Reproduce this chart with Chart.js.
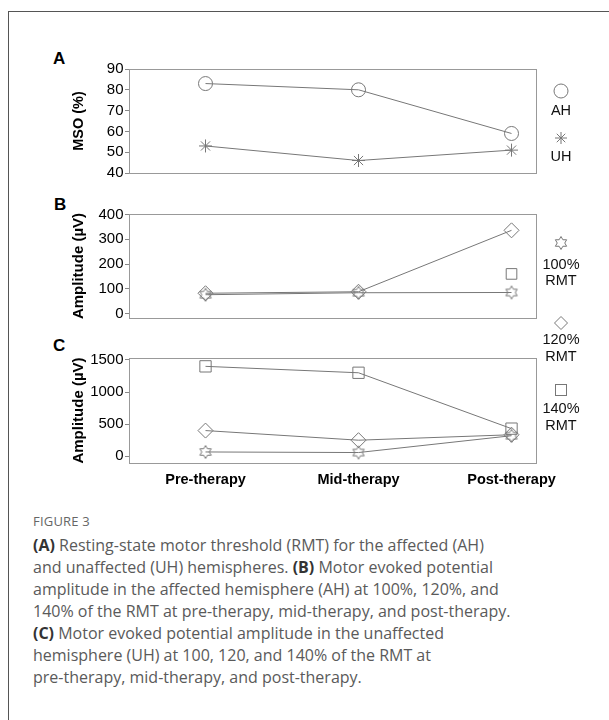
<!DOCTYPE html>
<html>
<head>
<meta charset="utf-8">
<script src="https://cdn.jsdelivr.net/npm/chart.js@4.4.1/dist/chart.umd.min.js"></script>
<style>
  html, body { margin: 0; padding: 0; background: #fff; }
  body { width: 609px; height: 720px; position: relative; overflow: hidden; }
  .frame { position: absolute; left: 8px; top: 11px; width: 620px; height: 720px;
           border-left: 1.5px solid #555; border-top: 1.5px solid #555; }
  .box { position: absolute; left: 0; width: 609px; }
  .letter { position: absolute; font-family: "Liberation Sans", Arial, sans-serif; font-weight: bold;
            font-size: 17px; color: #000; line-height: 1; }
  .fig { position: absolute; left: 33px; top: 512px; font-family: "Open Sans", sans-serif;
         font-size: 13px; color: #666; letter-spacing: 0.2px; }
  .cap { position: absolute; left: 33px; top: 534px; font-family: "Open Sans", sans-serif;
         font-size: 16px; line-height: 22px; color: #5a5a5a; white-space: nowrap; }
  .cap b { color: #333; font-weight: 700; }
</style>
</head>
<body>
<div class="frame"></div>
<div class="letter" style="left:53px;top:50px;">A</div>
<div class="letter" style="left:54px;top:196px;">B</div>
<div class="letter" style="left:53px;top:337px;">C</div>
<div class="box" style="top:40px;height:150px;"><canvas id="cA"></canvas></div>
<div class="box" style="top:190px;height:140px;"><canvas id="cB"></canvas></div>
<div class="box" style="top:225px;height:280px;"><canvas id="cC"></canvas></div>
<div class="fig">FIGURE 3</div>
<div class="cap"><b>(A)</b> Resting-state motor threshold (RMT) for the affected (AH)<br>and unaffected (UH) hemispheres. <b>(B)</b> Motor evoked potential<br>amplitude in the affected hemisphere (AH) at 100%, 120%, and<br>140% of the RMT at pre-therapy, mid-therapy, and post-therapy.<br><b>(C)</b> Motor evoked potential amplitude in the unaffected<br>hemisphere (UH) at 100, 120, and 140% of the RMT at<br>pre-therapy, mid-therapy, and post-therapy.</div>
<script>
// ---------- data ----------
const categories = ['Pre-therapy', 'Mid-therapy', 'Post-therapy'];

const msoAH = [83, 80, 59];
const msoUH = [53, 46, 51];

const ampAH100 = [76, 84, 85];
const ampAH120 = [82, 88, 336];
const ampAH140 = [null, null, 160];

const ampUH100 = [67, 58, 320];
const ampUH120 = [400, 250, 335];
const ampUH140 = [1400, 1300, 430];

const ticksA = [40, 50, 60, 70, 80, 90];
const ticksB = [0, 100, 200, 300, 400];
const ticksC = [0, 500, 1000, 1500];

// ---------- styling ----------
const GRAY = '#777';
const FONT = '"Liberation Sans", Arial, sans-serif';

function hexStar(r) {
  const s = Math.ceil(r * 2 + 3);
  const c = document.createElement('canvas');
  c.width = s; c.height = s;
  const g = c.getContext('2d');
  g.strokeStyle = GRAY; g.lineWidth = 1;
  drawHex(g, s / 2, s / 2, r);
  return c;
}
function drawHex(g, cx, cy, r) {
  const ri = r / Math.sqrt(3);
  g.beginPath();
  for (let k = 0; k < 12; k++) {
    const a = -Math.PI / 2 + k * Math.PI / 6;
    const rr = k % 2 === 0 ? r : ri;
    const x = cx + rr * Math.cos(a), y = cy + rr * Math.sin(a);
    k ? g.lineTo(x, y) : g.moveTo(x, y);
  }
  g.closePath(); g.stroke();
}
const HEX = hexStar(6.5);

function toXY(vals) { return vals.map((v, i) => ({ x: i + 1, y: v })); }

function ds(vals, style, radius) {
  return {
    data: toXY(vals),
    borderColor: GRAY, borderWidth: 1,
    pointStyle: style, pointRadius: radius, pointHoverRadius: radius,
    pointBorderColor: GRAY, pointBackgroundColor: 'rgba(0,0,0,0)', pointBorderWidth: 1,
    tension: 0, spanGaps: false, clip: false
  };
}

const boxPlugin = {
  id: 'box',
  afterDraw(chart) {
    const a = chart.chartArea, ctx = chart.ctx;
    ctx.save();
    ctx.strokeStyle = '#999'; ctx.lineWidth = 1;
    ctx.strokeRect(Math.round(a.left) + 0.5, Math.round(a.top) + 0.5,
                   Math.round(a.right - a.left), Math.round(a.bottom - a.top));
    ctx.restore();
  }
};

function legendPlugin(items) {
  return {
    id: 'lg',
    afterDraw(chart) {
      const ctx = chart.ctx;
      ctx.save();
      ctx.strokeStyle = GRAY; ctx.lineWidth = 1;
      ctx.fillStyle = '#111';
      ctx.font = '14.5px ' + FONT;
      ctx.textAlign = 'center'; ctx.textBaseline = 'middle';
      items.forEach(it => {
        const { x, y } = it;
        if (it.text) { ctx.fillText(it.text, x, y); return; }
        ctx.beginPath();
        if (it.mark === 'circle') { ctx.arc(x, y, 7, 0, Math.PI * 2); ctx.stroke(); }
        else if (it.mark === 'asterisk') {
          const r = 6;
          for (let k = 0; k < 4; k++) {
            const a = k * Math.PI / 4;
            ctx.moveTo(x - r * Math.cos(a), y - r * Math.sin(a));
            ctx.lineTo(x + r * Math.cos(a), y + r * Math.sin(a));
          }
          ctx.stroke();
        }
        else if (it.mark === 'diamond') {
          const r = 6.5;
          ctx.moveTo(x, y - r); ctx.lineTo(x + r, y); ctx.lineTo(x, y + r); ctx.lineTo(x - r, y); ctx.closePath(); ctx.stroke();
        }
        else if (it.mark === 'square') { ctx.strokeRect(x - 5.5, y - 5.5, 11, 11); }
        else if (it.mark === 'hex') { drawHex(ctx, x, y, 6.5); }
      });
      ctx.restore();
    }
  };
}

function yAxis(min, max, ticks, title, tsize) {
  return {
    min: min, max: max,
    afterBuildTicks(s) { s.ticks = ticks.map(v => ({ value: v })); },
    afterFit(s) { s.width = 59; },
    grid: { drawOnChartArea: false, drawTicks: true, tickLength: 4, color: '#888' },
    border: { display: false },
    ticks: { color: '#000', font: { family: FONT, size: 15 }, padding: 1.5,
             autoSkip: false, callback: v => String(v) },
    title: { display: true, text: title, color: '#000', padding: 0,
             font: { family: FONT, size: tsize, weight: 'bold' } }
  };
}

function xAxis(show) {
  const ax = {
    type: 'linear', min: 0.5, max: 3.16, display: show,
    afterBuildTicks(s) { s.ticks = categories.map((c, i) => ({ value: i + 1 })); },
    grid: { display: false, drawTicks: false },
    border: { display: false },
    ticks: { color: '#000', padding: 8, maxRotation: 0, autoSkip: false,
             font: { family: FONT, size: 14.5, weight: 'bold' },
             callback: v => categories[v - 1] }
  };
  if (show) ax.afterFit = s => { s.height = 30; };
  return ax;
}

function baseOptions(padding, x, y) {
  return {
    responsive: true, maintainAspectRatio: false, animation: false,
    layout: { padding: padding },
    plugins: { legend: { display: false }, tooltip: { enabled: false } },
    events: [],
    scales: { x: x, y: y }
  };
}

// Panel A
new Chart(document.getElementById('cA'), {
  type: 'line',
  data: { datasets: [ds(msoAH, 'circle', 7), ds(msoUH, 'star', 6.5)] },
  options: baseOptions({ left: 70, right: 73, top: 29, bottom: 17 },
                       xAxis(false), yAxis(40, 90, ticksA, 'MSO (%)', 14.5)),
  plugins: [boxPlugin, legendPlugin([
    { x: 561, y: 51, mark: 'circle' },
    { x: 561, y: 71, text: 'AH' },
    { x: 561, y: 98, mark: 'asterisk' },
    { x: 561, y: 117, text: 'UH' }
  ])]
});

// Panel B
new Chart(document.getElementById('cB'), {
  type: 'line',
  data: { datasets: [ds(ampAH100, HEX, 6.5), ds(ampAH120, 'rectRot', 7.5), ds(ampAH140, 'rect', 7.5)] },
  options: baseOptions({ left: 70, right: 73, top: 24, bottom: 12 },
                       xAxis(false), yAxis(-18, 402, ticksB, 'Amplitude (µV)', 15)),
  plugins: [boxPlugin]
});

// Panel C
new Chart(document.getElementById('cC'), {
  type: 'line',
  data: { datasets: [ds(ampUH100, HEX, 6.5), ds(ampUH120, 'rectRot', 7.5), ds(ampUH140, 'rect', 8)] },
  options: baseOptions({ left: 70, right: 73, top: 133, bottom: 12 },
                       xAxis(true), yAxis(-105, 1530, ticksC, 'Amplitude (µV)', 15)),
  plugins: [boxPlugin, legendPlugin([
    { x: 561, y: 18, mark: 'hex' },
    { x: 561, y: 40, text: '100%' },
    { x: 561, y: 56, text: 'RMT' },
    { x: 561, y: 98, mark: 'diamond' },
    { x: 561, y: 115, text: '120%' },
    { x: 561, y: 132, text: 'RMT' },
    { x: 561, y: 165, mark: 'square' },
    { x: 561, y: 184, text: '140%' },
    { x: 561, y: 201, text: 'RMT' }
  ])]
});
</script>
</body>
</html>
